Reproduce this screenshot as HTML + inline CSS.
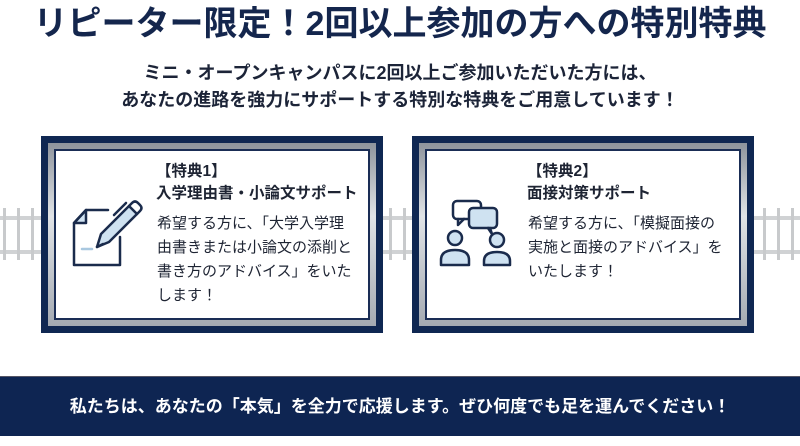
<!DOCTYPE html>
<html><head><meta charset="utf-8"><style>
*{margin:0;padding:0;box-sizing:border-box}
body{width:800px;height:446px;background:#fff;position:relative;overflow:hidden;font-family:"Liberation Sans","Noto Sans CJK JP",sans-serif;color:#1c2a4a}
.t{position:absolute;left:0;width:800px;text-align:center;font-weight:bold;white-space:nowrap}
.card{position:absolute;top:136px;width:342px;height:197px;background:#0f2752;padding:7px}
.card .s{width:100%;height:100%;background:linear-gradient(#8e949c,#e0e3e6 40%,#a4aab2);padding:6px}
.card .w{width:100%;height:100%;background:#fff;border:2px solid #1a2d55;position:relative}
.tx{position:absolute;font-size:15px;line-height:24px;white-space:nowrap;color:#1e2433}
.hd{font-weight:bold;font-size:15.5px;line-height:22px}
.banner{position:absolute;left:0;top:376px;width:800px;height:60px;background:#0e2552;border-top:1px solid #556;color:#fff;font-weight:bold;font-size:17px;line-height:60px;text-align:center}
</style></head><body>
<div class="t" style="top:2px;font-size:34px;line-height:44px;color:#14264d">リピーター限定！2回以上参加の方への特別特典</div>
<div class="t" style="top:60px;font-size:18px;line-height:27px;color:#1c2438">ミニ・オープンキャンパスに2回以上ご参加いただいた方には、<br>あなたの進路を強力にサポートする特別な特典をご用意しています！</div>

<svg style="position:absolute;left:0;top:0" width="800" height="446">
<g fill="#d0d2d4">
<rect x="0" y="216" width="41" height="4"/><rect x="0" y="250" width="41" height="4"/>
<rect x="383" y="216" width="29" height="4"/><rect x="383" y="250" width="29" height="4"/>
<rect x="754" y="216" width="46" height="4"/><rect x="754" y="250" width="46" height="4"/>
</g>
<g fill="#c8cacc">
<rect x="3" y="208" width="3" height="52"/><rect x="17" y="208" width="3" height="52"/><rect x="31" y="208" width="3" height="52"/>
<rect x="389" y="208" width="3" height="52"/><rect x="403" y="208" width="3" height="52"/>
<rect x="763" y="208" width="3" height="52"/><rect x="777" y="208" width="3" height="52"/><rect x="791" y="208" width="3" height="52"/>
</g>
</svg>

<div class="card" style="left:41px"><div class="s"><div class="w">
<div class="tx hd" style="left:100px;top:10px">【特典1】<br>入学理由書・小論文サポート</div>
<div class="tx" style="left:101px;top:61px">希望する方に、「大学入学理<br>由書きまたは小論文の添削と<br>書き方のアドバイス」をいた<br>します！</div>
</div></div></div>

<div class="card" style="left:412px"><div class="s"><div class="w">
<div class="tx hd" style="left:100px;top:10px">【特典2】<br>面接対策サポート</div>
<div class="tx" style="left:101px;top:61px">希望する方に、「模擬面接の<br>実施と面接のアドバイス」を<br>いたします！</div>
</div></div></div>

<svg style="position:absolute;left:0;top:0" width="800" height="446" fill="none" stroke="#1a2b4c" stroke-width="2.5" stroke-linejoin="round" stroke-linecap="round">
<path d="M86 210 L74 223 L86 223 Z" fill="#cfe2f1"/>
<path d="M108 210 L86 210 L74 223 L74 265 L120 265 L120 237"/>
<path d="M82 249 L92 249" stroke="#a9c8e0"/>
<path d="M97 247 L101 234 L129 206 L137 214 L109 242 Z" fill="#cfe2f1"/>
<path d="M97 247 L103 244"/>
<path d="M129 206 L132 203 Q135 200 138 203 L140 205 Q143 208 140 211 L137 214"/>
<path d="M126 203 L114 215"/>
<rect x="453" y="201" width="28" height="18" rx="4" fill="#fff"/>
<path d="M458 219 L458 225 L464 219"/>
<rect x="469" y="208" width="28" height="20" rx="4" fill="#cfe2f1"/>
<path d="M488 228 L492 234 L490 228" fill="#cfe2f1"/>
<circle cx="455" cy="238" r="7" fill="#cfe2f1"/>
<path d="M441 265 L441 260 Q441 250 455 250 Q469 250 469 260 L469 265 Z" fill="#cfe2f1"/>
<circle cx="497" cy="240" r="7" fill="#cfe2f1"/>
<path d="M484 265 L484 261 Q484 252 497 252 Q510 252 510 261 L510 265 Z" fill="#cfe2f1"/>
</svg>

<div class="banner">私たちは、あなたの「本気」を全力で応援します。ぜひ何度でも足を運んでください！</div>
</body></html>
